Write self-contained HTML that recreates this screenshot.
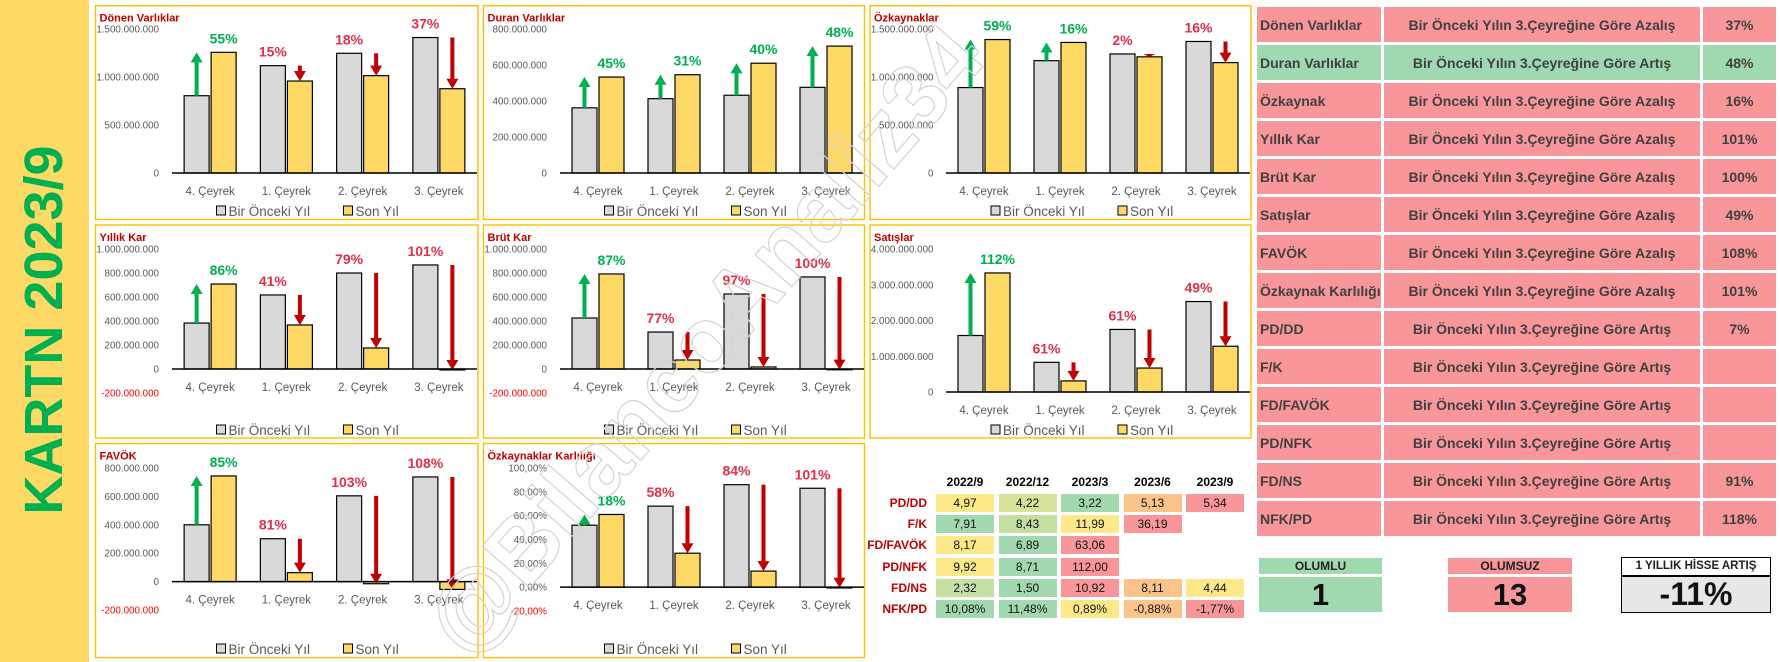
<!DOCTYPE html>
<html><head><meta charset="utf-8">
<style>
html,body{margin:0;padding:0;background:#fff;}
body{width:1780px;height:662px;position:relative;overflow:hidden;font-family:"Liberation Sans","DejaVu Sans",sans-serif;}
.abs{position:absolute;box-sizing:border-box;}
.band{left:0;top:0;width:89px;height:662px;background:#FFD966;}
.bandtxt{position:absolute;left:44px;top:330px;transform:translate(-50%,-50%) rotate(-90deg);white-space:nowrap;color:#00B050;font-weight:bold;font-size:54px;}
.rc{display:flex;align-items:center;font-weight:bold;font-size:14px;color:#404040;height:35px;}
.pink{background:#F8969A;}
.green{background:#A0D9B0;}
.rt{font-size:12px;text-align:center;line-height:18px;height:18px;width:58px;color:#111;}
.rh{font-size:12px;font-weight:bold;text-align:center;width:58px;color:#000;}
.rl{font-size:12px;font-weight:bold;color:#C00000;text-align:right;width:100px;white-space:nowrap;}
</style></head>
<body>
<div class="abs band"><div class="bandtxt">KARTN 2023/9</div></div>

<svg id="charts" class="abs" style="left:0;top:0" width="1780" height="662"></svg>

<div id="ratio"></div>
<div id="summary"></div>

<div class="abs green" style="left:1259px;top:558px;width:123px;height:16px;font-size:12px;font-weight:bold;text-align:center;line-height:16px;color:#222">OLUMLU</div>
<div class="abs green" style="left:1259px;top:577px;width:123px;height:35px;font-size:31px;font-weight:bold;text-align:center;line-height:35px;color:#111">1</div>
<div class="abs pink" style="left:1448px;top:558px;width:124px;height:16px;font-size:12px;font-weight:bold;text-align:center;line-height:16px;color:#222">OLUMSUZ</div>
<div class="abs pink" style="left:1448px;top:577px;width:124px;height:35px;font-size:31px;font-weight:bold;text-align:center;line-height:35px;color:#111">13</div>
<div class="abs" style="left:1621px;top:557px;width:150px;height:19px;border:1.5px solid #000;font-size:11.5px;font-weight:bold;text-align:center;line-height:16px;color:#222;background:#fff">1 YILLIK HİSSE ARTIŞ</div>
<div class="abs" style="left:1621px;top:576px;width:150px;height:37px;border:1.5px solid #000;font-size:32px;font-weight:bold;text-align:center;line-height:34px;color:#111;background:#E7E7E7">-11%</div>

<script>
const categories = ["4. Çeyrek","1. Çeyrek","2. Çeyrek","3. Çeyrek"];

const donenPrev = [805,1118,1247,1411];
const donenCurr = [1257,958,1014,878];
const donenPct = [55,15,18,37];
const donenTicks = [0,500,1000,1500];

const duranPrev = [362,413,432,476];
const duranCurr = [533,546,610,705];
const duranPct = [45,31,40,48];
const duranTicks = [0,200,400,600,800];

const ozkPrev = [890,1170,1240,1370];
const ozkCurr = [1390,1360,1210,1150];
const ozkPct = [59,16,2,16];
const ozkTicks = [0,500,1000,1500];

const yillikPrev = [383,617,800,867];
const yillikCurr = [708,367,175,-8];
const yillikPct = [86,41,79,101];
const yillikTicks = [-200,0,200,400,600,800,1000];

const brutPrev = [425,308,625,767];
const brutCurr = [792,75,17,-5];
const brutPct = [87,77,97,100];
const brutTicks = [-200,0,200,400,600,800,1000];

const satisPrev = [1580,830,1750,2530];
const satisCurr = [3330,310,670,1280];
const satisPct = [112,61,61,49];
const satisTicks = [0,1000,2000,3000,4000];

const favokPrev = [400,302,604,737];
const favokCurr = [744,63,-15,-55];
const favokPct = [85,81,103,108];
const favokTicks = [-200,0,200,400,600,800];

const ozkKarPrev = [52,68,86,83];
const ozkKarCurr = [61,28.5,13.5,-0.5];
const ozkKarPct = [18,58,84,101];
const ozkKarTicks = [-20,0,20,40,60,80,100];

const ratioYears = ["2022/9","2022/12","2023/3","2023/6","2023/9"];
const ratioNames = ["PD/DD","F/K","FD/FAVÖK","PD/NFK","FD/NS","NFK/PD"];
const ratioPDDD = ["4,97","4,22","3,22","5,13","5,34"];
const ratioFK = ["7,91","8,43","11,99","36,19",""];
const ratioFDFAVOK = ["8,17","6,89","63,06","",""];
const ratioPDNFK = ["9,92","8,71","112,00","",""];
const ratioFDNS = ["2,32","1,50","10,92","8,11","4,44"];
const ratioNFKPD = ["10,08%","11,48%","0,89%","-0,88%","-1,77%"];

const summaryNames = ["Dönen Varlıklar","Duran Varlıklar","Özkaynak","Yıllık Kar","Brüt Kar","Satışlar","FAVÖK","Özkaynak Karlılığı","PD/DD","F/K","FD/FAVÖK","PD/NFK","FD/NS","NFK/PD"];
const summaryDir = ["Azalış","Artış","Azalış","Azalış","Azalış","Azalış","Azalış","Azalış","Artış","Artış","Artış","Artış","Artış","Artış"];
const summaryPct = ["37%","48%","16%","101%","100%","49%","108%","101%","7%","","","","91%","118%"];
const summaryGood = [false,true,false,false,false,false,false,false,false,false,false,false,false,false];

const NS = "http://www.w3.org/2000/svg";
const svg = document.getElementById('charts');
function mk(tag, attrs, parent, text){
  const e = document.createElementNS(NS, tag);
  for (const k in attrs) e.setAttribute(k, attrs[k]);
  if (text !== undefined) e.textContent = text;
  (parent||svg).appendChild(e);
  return e;
}
function fmtMoney(v){
  if (v === 0) return "0";
  const n = Math.round(Math.abs(v)*1e6).toString().replace(/\B(?=(\d{3})+(?!\d))/g, ".");
  return (v<0?"-":"") + n;
}
function fmtPctTick(v){ return v.toFixed(2).replace('.',',') + '%'; }

function drawChart(c){
  const g = mk('g', {});
  
  
  const p = mk('rect', {x:c.px, y:c.py, width:c.pw, height:c.ph, fill:'#fff', stroke:'#FFC000', 'stroke-width':1.4}, g);
  
  
  const t = mk('text', {x:c.px+4, y:c.py+16, 'font-size':11, 'font-weight':'bold', fill:'#C00000'}, g, c.title);
  
  
  const t0 = c.ticks[0], t1 = c.ticks[c.ticks.length-1];
  const y = v => c.yLow + (v - t0) * (c.yHigh - c.yLow) / (t1 - t0);
  const step = (c.plotR - c.plotL) / categories.length;
  const xc = i => c.plotL + (i + 0.5) * step;
  c.ticks.forEach(v => {
    const tl = mk('text', {x:c.px+63.5, y:y(v)+3.5, 'font-size':9.8, fill: v<0?'#FF0000':'#595959', 'text-anchor':'end'}, g, c.pctAxis?fmtPctTick(v):fmtMoney(v));
    
    
  });
  const y0 = y(0);
  categories.forEach((cat, i) => {
    const cx = xc(i);
    const a = c.prev[i], b = c.curr[i];
    const gb = mk('rect', {x:cx-26, y:Math.min(y(a),y0), width:25, height:Math.abs(y(a)-y0), fill:'#D9D9D9', stroke:'#000', 'stroke-width':1.2}, g);
    
    
    const yb = mk('rect', {x:cx+1, y:Math.min(y(b),y0), width:25, height:Math.max(Math.abs(y(b)-y0),0.8), fill:'#FFD966', stroke:'#000', 'stroke-width':1.2}, g);
    
    
    const up = b > a;
    const col = up ? '#00B050' : '#C00000';
    const ax = up ? cx-13.5 : cx+13.5;
    const ys = y(a), ye = y(b);
    const hh = 10;
    let arrowPts;
    if (up){
      const shaftTop = Math.min(ye+hh, ys);
      arrowPts = `${ax-2},${ys} ${ax-2},${shaftTop} ${ax-6},${shaftTop} ${ax},${ye} ${ax+6},${shaftTop} ${ax+2},${shaftTop} ${ax+2},${ys}`;
    } else {
      const shaftBot = Math.max(ye-hh, ys);
      arrowPts = `${ax-2},${ys} ${ax-2},${shaftBot} ${ax-6},${shaftBot} ${ax},${ye} ${ax+6},${shaftBot} ${ax+2},${shaftBot} ${ax+2},${ys}`;
    }
    const ar = mk('polygon', {points:arrowPts, fill:col}, g);
    
    
    const lx = a >= b ? cx-13.5 : cx+13.5;
    const ly = Math.min(y(a), y(b)) - 9;
    const pl = mk('text', {x:lx, y:ly, 'font-size':14, 'font-weight':'bold', fill: up?'#00B050':'#E0314B', 'text-anchor':'middle'}, g, c.pct[i] + '%');
    
    
    const cl = mk('text', {x:cx, y:y0+22, 'font-size':11.5, fill:'#595959', 'text-anchor':'middle'}, g, cat);
    
    
  });
  const ax = mk('line', {x1:c.plotL, x2:c.plotR, y1:y0, y2:y0, stroke:'#000', 'stroke-width':1.5}, g);
  
  
  const lg = c.legendY;
  const l1 = mk('rect', {x:c.px+121, y:lg-5, width:9, height:9, fill:'#D9D9D9', stroke:'#000', 'stroke-width':1}, g);
  
  
  const l1t = mk('text', {x:c.px+133, y:lg+5, 'font-size':13.5, fill:'#595959'}, g, 'Bir Önceki Yıl');
  
  
  const l2 = mk('rect', {x:c.px+248, y:lg-5, width:9, height:9, fill:'#FFD966', stroke:'#000', 'stroke-width':1}, g);
  
  
  const l2t = mk('text', {x:c.px+260, y:lg+5, 'font-size':13.5, fill:'#595959'}, g, 'Son Yıl');
  
  
}

const cols = [{px:95.5,pw:382.5,plotL:172,plotR:477},{px:483.5,pw:381,plotL:560,plotR:864},{px:870,pw:381,plotL:946,plotR:1250}];
const rows = [{py:5.7,ph:213.8,legendY:211},{py:225,ph:213,legendY:430},{py:443.6,ph:214,legendY:649}];
function cfg(ci, ri, o){ return Object.assign({}, cols[ci], rows[ri], o); }

drawChart(cfg(0,0,{name:'donen-varliklar',title:'Dönen Varlıklar',prev:donenPrev,curr:donenCurr,pct:donenPct,ticks:donenTicks,yLow:173,yHigh:29}));
drawChart(cfg(1,0,{name:'duran-varliklar',title:'Duran Varlıklar',prev:duranPrev,curr:duranCurr,pct:duranPct,ticks:duranTicks,yLow:173,yHigh:29}));
drawChart(cfg(2,0,{name:'ozkaynaklar',title:'Özkaynaklar',prev:ozkPrev,curr:ozkCurr,pct:ozkPct,ticks:ozkTicks,yLow:173,yHigh:29}));
drawChart(cfg(0,1,{name:'yillik-kar',title:'Yıllık Kar',prev:yillikPrev,curr:yillikCurr,pct:yillikPct,ticks:yillikTicks,yLow:393,yHigh:249}));
drawChart(cfg(1,1,{name:'brut-kar',title:'Brüt Kar',prev:brutPrev,curr:brutCurr,pct:brutPct,ticks:brutTicks,yLow:393,yHigh:249}));
drawChart(cfg(2,1,{name:'satislar',title:'Satışlar',prev:satisPrev,curr:satisCurr,pct:satisPct,ticks:satisTicks,yLow:392,yHigh:249}));
drawChart(cfg(0,2,{name:'favok',title:'FAVÖK',prev:favokPrev,curr:favokCurr,pct:favokPct,ticks:favokTicks,yLow:610,yHigh:468}));
drawChart(cfg(1,2,{name:'ozkaynak-karliligi',title:'Özkaynaklar Karlılığı',prev:ozkKarPrev,curr:ozkKarCurr,pct:ozkKarPct,ticks:ozkKarTicks,yLow:611,yHigh:468,pctAxis:true}));

// watermark
const wm = mk('text', {x:0, y:0, 'font-size':92, 'font-weight':'bold', fill:'none', stroke:'#D4D4D4', 'stroke-width':1.2, 'text-anchor':'middle', transform:'translate(728,360) rotate(-49)'}, svg, '@BilancoAnaliz34');



// ratio table
const ratioRows = [ratioPDDD, ratioFK, ratioFDFAVOK, ratioPDNFK, ratioFDNS, ratioNFKPD];
const ratioColors = [
  ['#FFE88A','#D8E29A','#A3D9B1','#FCC38A','#F8969A'],
  ['#A3D9B1','#C4DFA0','#FFE88A','#F8969A',''],
  ['#FFE88A','#A3D9B1','#F8969A','',''],
  ['#FFE88A','#A3D9B1','#F8969A','',''],
  ['#C5E0A5','#A3D9B1','#F8969A','#FCC38A','#FFE88A'],
  ['#A3D9B1','#A3D9B1','#FFE88A','#FCC38A','#F8969A']
];
const ratio = document.getElementById('ratio');
const colX = i => 936 + i * 62.5;
ratioYears.forEach((yr, i) => {
  const d = document.createElement('div');
  d.className = 'abs rh';
  d.style.left = colX(i) + 'px'; d.style.top = '475px';
  d.textContent = yr;
  
  
  ratio.appendChild(d);
});
ratioNames.forEach((nm, r) => {
  const top = 494 + r * 21.2;
  const l = document.createElement('div');
  l.className = 'abs rl';
  l.style.left = '827px'; l.style.top = (top+2) + 'px';
  l.textContent = nm;
  
  
  ratio.appendChild(l);
  ratioRows[r].forEach((v, i) => {
    if (!v) return;
    const c = document.createElement('div');
    c.className = 'abs rt';
    c.style.left = colX(i) + 'px'; c.style.top = top + 'px';
    c.style.background = ratioColors[r][i];
    c.textContent = v;
    
    
    ratio.appendChild(c);
  });
});

// summary table
const summary = document.getElementById('summary');
summaryNames.forEach((nm, r) => {
  const top = 7 + r * 38;
  const cls = summaryGood[r] ? 'green' : 'pink';
  const a = document.createElement('div');
  a.className = 'abs rc ' + cls;
  a.style.left = '1257px'; a.style.top = top + 'px'; a.style.width = '124px'; a.style.paddingLeft = '3px'; a.style.whiteSpace = 'nowrap'; a.style.overflow = 'hidden';
  a.textContent = nm;
  
  
  summary.appendChild(a);
  const b = document.createElement('div');
  b.className = 'abs rc ' + cls;
  b.style.left = '1384px'; b.style.top = top + 'px'; b.style.width = '316px'; b.style.justifyContent = 'center';
  b.textContent = 'Bir Önceki Yılın 3.Çeyreğine Göre ' + summaryDir[r];
  
  
  summary.appendChild(b);
  const c = document.createElement('div');
  c.className = 'abs rc ' + cls;
  c.style.left = '1703px'; c.style.top = top + 'px'; c.style.width = '73px'; c.style.justifyContent = 'center';
  c.textContent = summaryPct[r];
  
  
  summary.appendChild(c);
});
</script>
</body></html>
